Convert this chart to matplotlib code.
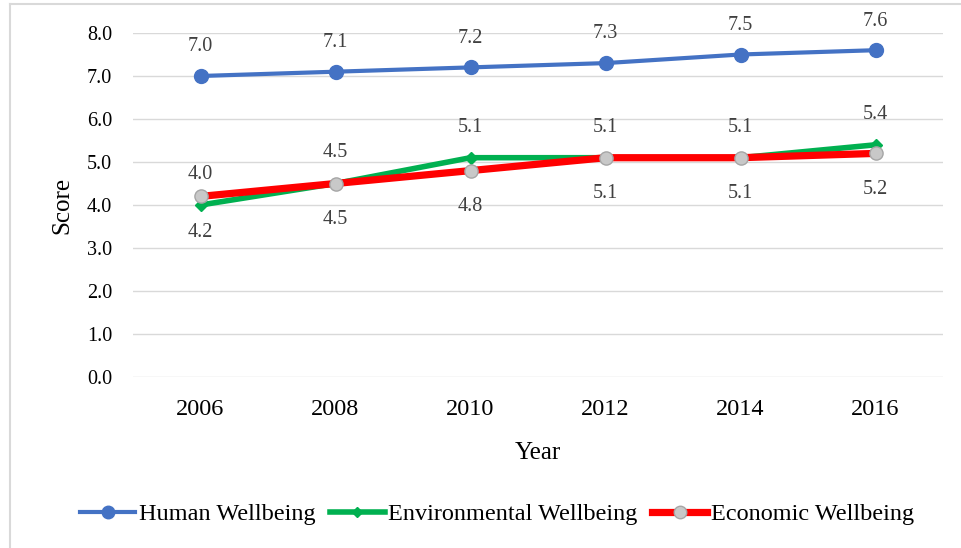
import matplotlib
matplotlib.use("Agg")
import matplotlib.pyplot as plt
from matplotlib.lines import Line2D

years = ["2006", "2008", "2010", "2012", "2014", "2016"]
human = [7.0, 7.1, 7.2, 7.3, 7.5, 7.6]
environmental = [4.0, 4.5, 5.1, 5.1, 5.1, 5.4]
economic = [4.2, 4.5, 4.8, 5.1, 5.1, 5.2]
# data-label texts as printed on the chart
human_labels = ["7.0", "7.1", "7.2", "7.3", "7.5", "7.6"]
env_labels = ["4.0", "4.5", "5.1", "5.1", "5.1", "5.4"]
eco_labels = ["4.2", "4.5", "4.8", "5.1", "5.1", "5.2"]
yticks = [0.0, 1.0, 2.0, 3.0, 4.0, 5.0, 6.0, 7.0, 8.0]

plt.rcParams['font.family'] = ['Liberation Serif', 'DejaVu Serif']

W, H = 961, 548
fig = plt.figure(figsize=(W / 100, H / 100), dpi=100)
ax = fig.add_axes([133 / W, 1 - 377 / H, (943 - 133) / W, (377 - 33) / H])

x = list(range(len(years)))
blue, green, red = "#4472C4", "#00B050", "#FF0000"

ax.plot(x, human, color=blue, lw=3, marker="o", ms=10, mfc=blue, mec=blue, zorder=3,
        label="Human Wellbeing", solid_capstyle="round")
ax.plot(x, environmental, color=green, lw=4, marker="D", ms=6, mfc=green, mec=green, zorder=4,
        label="Environmental Wellbeing")
ax.plot(x, economic, color=red, lw=5.2, marker="o", ms=9.5, mfc="#C8C8C8", mec="#A6A6A6", mew=1,
        zorder=5, label="Economic Wellbeing")

lab_kw = dict(textcoords="offset points", ha="center", va="center", fontsize=14.5, color="#404040")
for xi, v, t in zip(x, human, human_labels):
    ax.annotate(t, (xi, v), xytext=(0, 21), **lab_kw)
for xi, v, t in zip(x, environmental, env_labels):
    ax.annotate(t, (xi, v), xytext=(0, 22), **lab_kw)
for xi, v, t in zip(x, economic, eco_labels):
    ax.annotate(t, (xi, v), xytext=(0, -26), **lab_kw)

ax.set_xlim(-0.5, len(years) - 0.5)
ax.set_ylim(0, 8)
ax.set_yticks(yticks)
ax.set_yticklabels([f"{t:.1f}" for t in yticks])
ax.set_xticks(x)
ax.set_xticklabels(years)
ax.tick_params(axis="both", length=0, colors="#000000")
ax.tick_params(axis="y", pad=15, labelsize=14.5)
ax.tick_params(axis="x", pad=16, labelsize=17.5)
ax.grid(axis="y", color="#D9D9D9", lw=1)
ax.set_axisbelow(True)
for s in ax.spines.values():
    s.set_visible(False)

ax.set_ylabel("Score", fontsize=18, labelpad=10)
ax.set_xlabel("Year", fontsize=18, labelpad=16)

handles = [
    Line2D([], [], color=blue, lw=3, marker="o", ms=9, mfc=blue, mec=blue),
    Line2D([], [], color=green, lw=4, marker="D", ms=5, mfc=green, mec=green),
    Line2D([], [], color=red, lw=5.2, marker="o", ms=9, mfc="#C8C8C8", mec="#A6A6A6"),
]
fig.legend(handles, ["Human Wellbeing", "Environmental Wellbeing", "Economic Wellbeing"],
           loc="center", bbox_to_anchor=(497 / W, 1 - 514 / H), ncol=3, frameon=False,
           fontsize=17.5, handlelength=2.25, handletextpad=0.15, columnspacing=0.6,
           borderpad=0, borderaxespad=0)

# chart-area border (top and left visible)
fig.add_artist(Line2D([10 / W, 10 / W], [0, 1 - 4 / H], color="#D9D9D9", lw=1.5,
                      transform=fig.transFigure))
fig.add_artist(Line2D([10 / W, 1], [1 - 4 / H, 1 - 4 / H], color="#D9D9D9", lw=1.5,
                      transform=fig.transFigure))

fig.savefig("out.png", dpi=100)
